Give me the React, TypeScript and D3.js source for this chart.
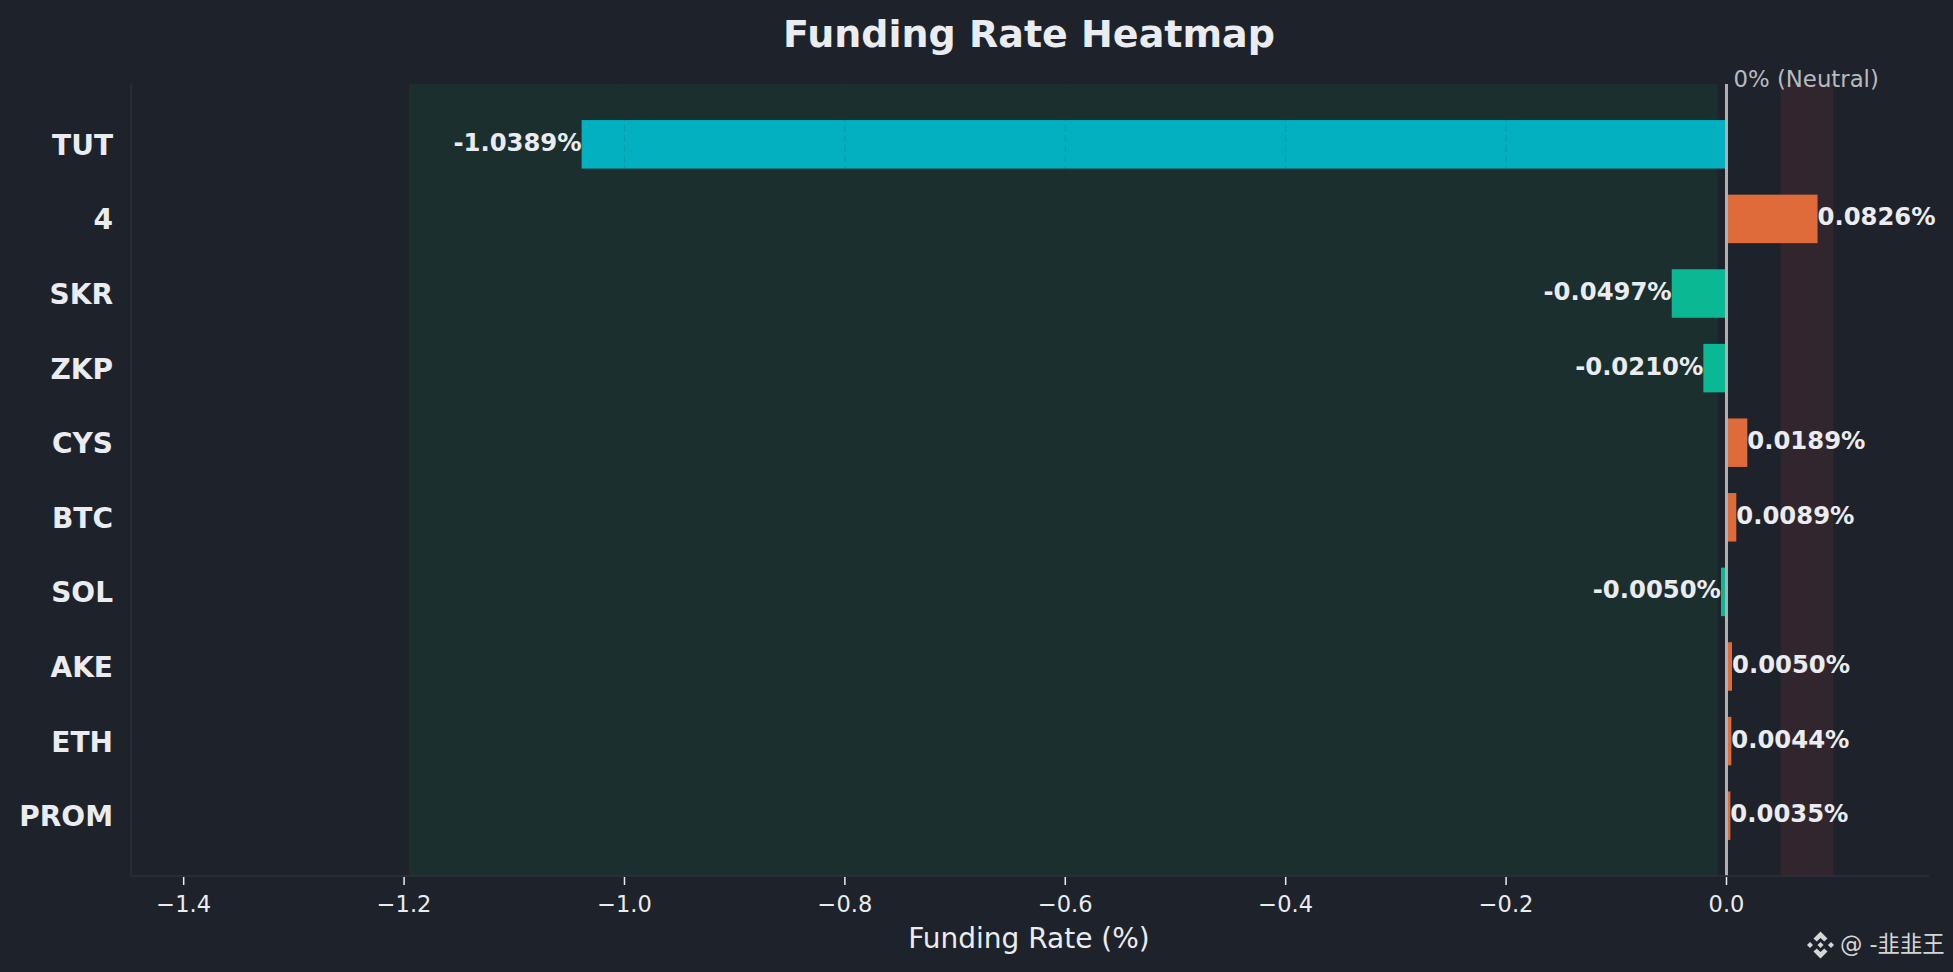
import React from 'react'
import * as d3 from 'd3'

const symbols = ['TUT', '4', 'SKR', 'ZKP', 'CYS', 'BTC', 'SOL', 'AKE', 'ETH', 'PROM']
const rates = [-1.0389, 0.0826, -0.0497, -0.021, 0.0189, 0.0089, -0.005, 0.005, 0.0044, 0.0035]
const xTicks = [-1.4, -1.2, -1.0, -0.8, -0.6, -0.4, -0.2, 0.0]
const negativeZone = [-1.1955, -0.008]
const positiveZone = [0.049, 0.097]

const width = 1953
const height = 972
const font = "'DejaVu Sans', sans-serif"

const barColor = (v: number) => {
  if (v > 0) return '#e06b3a'
  return v < -0.5 ? '#03b0bf' : '#0ab894'
}

export default function App() {
  const x = d3.scaleLinear().domain([-1.4478, 0.18376]).range([131, 1929])
  const y = d3.scaleBand().domain(symbols).range([84, 876]).paddingInner(0.35).paddingOuter(0.4835)
  const minus = (t: number) => (t < 0 ? '\u2212' : '') + Math.abs(t).toFixed(1)

  return (
    <svg
      width={width}
      height={height}
      style={{ position: 'absolute', left: 0, top: 0, background: '#1e222a' }}
      fontFamily={font}
    >
      <rect width={width} height={height} fill="#1e222a" />
      <text x={1029} y={47} textAnchor="middle" fontSize={38} fontWeight="bold" fill="#eaecef">
        Funding Rate Heatmap
      </text>

      <rect x={x(negativeZone[0])} y={84} width={x(negativeZone[1]) - x(negativeZone[0])} height={792} fill="#1c2f2f" />
      <rect x={x(positiveZone[0])} y={84} width={x(positiveZone[1]) - x(positiveZone[0])} height={792} fill="#32262e" />

      {rates.map((v, i) => (
        <rect
          key={symbols[i]}
          x={x(Math.min(v, 0))}
          y={y(symbols[i])}
          width={Math.abs(x(v) - x(0))}
          height={y.bandwidth()}
          fill={barColor(v)}
        />
      ))}

      {xTicks.slice(0, -1).map((t) => (
        <line key={t} x1={x(t)} x2={x(t)} y1={84} y2={876} stroke="#2b3139" strokeOpacity={0.15} strokeWidth={1.2} strokeDasharray="7 3.2" />
      ))}

      <line x1={x(0)} x2={x(0)} y1={84} y2={876} stroke="#aeb0b3" strokeWidth={3} />
      <text x={1733.5} y={87} fontSize={22.8} fill="#b7bbc0">0% (Neutral)</text>

      <line x1={131} x2={131} y1={84} y2={876} stroke="#2d3139" strokeWidth={1.5} />
      <line x1={131} x2={1929} y1={876} y2={876} stroke="#2d3139" strokeWidth={1.5} />

      {xTicks.map((t) => (
        <g key={t}>
          <line x1={x(t)} x2={x(t)} y1={877} y2={885} stroke="#eaecef" strokeWidth={1.5} />
          <text x={x(t)} y={912} textAnchor="middle" fontSize={22.5} fill="#eaecef">{minus(t)}</text>
        </g>
      ))}
      <text x={1029} y={948} textAnchor="middle" fontSize={28} fill="#eaecef">Funding Rate (%)</text>

      {symbols.map((s) => (
        <text key={s} x={113} y={y(s)! + y.bandwidth() / 2 + 10.5} textAnchor="end" fontSize={28} fontWeight="bold" fill="#eaecef">
          {s}
        </text>
      ))}

      {rates.map((v, i) => (
        <text
          key={symbols[i]}
          x={x(v)}
          y={y(symbols[i])! + y.bandwidth() / 2 + 6.5}
          textAnchor={v < 0 ? 'end' : 'start'}
          fontSize={24.3}
          fontWeight="bold"
          fill="#eaecef"
        >
          {v.toFixed(4)}%
        </text>
      ))}

      <g fill="#d6d6d6" transform="translate(1820.5,945)">
        <path d="M0,-13.5 L7,-6.5 L3.8,-3.5 L0,-7 L-3.8,-3.5 L-7,-6.5 Z" />
        <path d="M0,13.5 L7,6.5 L3.8,3.5 L0,7 L-3.8,3.5 L-7,6.5 Z" />
        <path d="M0,-3 L3,0 L0,3 L-3,0 Z" />
        <path d="M-10.5,-3 L-7.5,0 L-10.5,3 L-13.5,0 Z" />
        <path d="M10.5,-3 L13.5,0 L10.5,3 L7.5,0 Z" />
      </g>
      <text x={1840} y={952} fontSize={22.4} fill="#d6d6d6" fontFamily="'DejaVu Sans', 'Noto Sans CJK SC', sans-serif">@ -韭韭王</text>
    </svg>
  )
}
